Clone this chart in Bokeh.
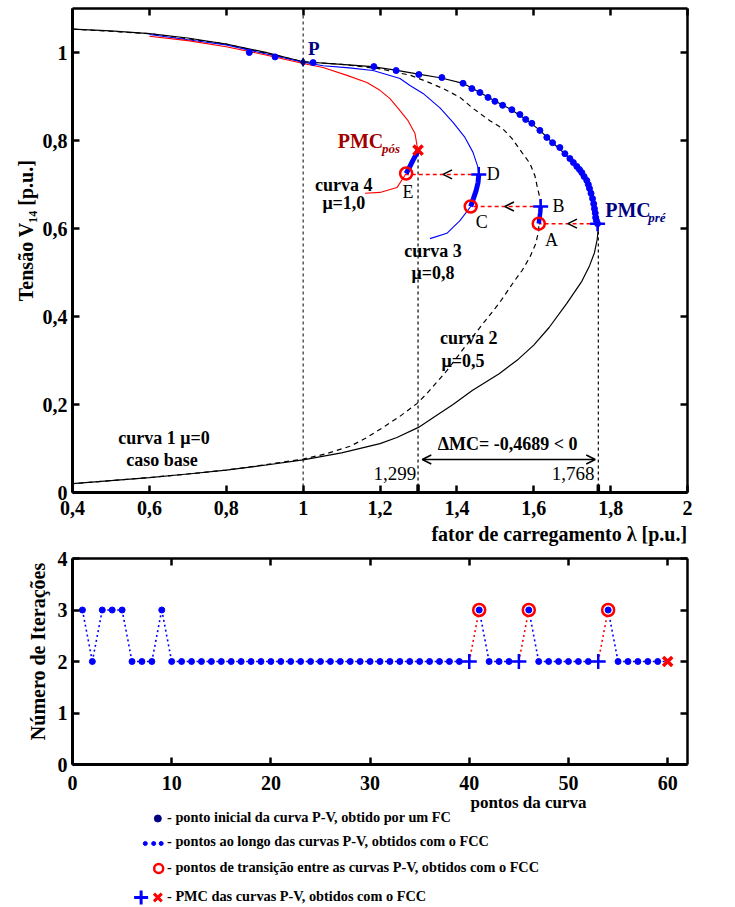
from bokeh.plotting import figure
from bokeh.layouts import column
from bokeh.models import Range1d, FixedTicker, LinearAxis, Label, Arrow, OpenHead, Title
from bokeh.core.properties import value
from bokeh.embed import file_html
from bokeh.resources import INLINE

FONT = "Liberation Serif"
BLUE = "#0000ff"
NAVY = "#000080"
RED = "#ff0000"
DARKRED = "#a00000"
NB = "\u00a0"

# ---------------- data: panel (a) ----------------
x_ticks_a = [0.4, 0.6, 0.8, 1.0, 1.2, 1.4, 1.6, 1.8, 2.0]
x_tick_labels_a = ["0,4", "0,6", "0,8", "1", "1,2", "1,4", "1,6", "1,8", "2"]
y_ticks_a = [0, 0.2, 0.4, 0.6, 0.8, 1.0]
y_tick_labels_a = ["0", "0,2", "0,4", "0,6", "0,8", "1"]

# curve 1 (mu = 0, base case) - upper branch then lower branch
c1_lam = [0.40, 0.50, 0.60, 0.70, 0.80, 0.90, 1.00, 1.10, 1.18, 1.24, 1.30, 1.36, 1.416, 1.46,
          1.50, 1.54, 1.58, 1.616, 1.649, 1.681, 1.712, 1.738, 1.753, 1.761, 1.766,
          1.768, 1.765, 1.758, 1.745, 1.725, 1.686, 1.64, 1.60, 1.56, 1.51, 1.44, 1.39,
          1.338, 1.30, 1.244, 1.20, 1.10, 1.00, 0.90, 0.80, 0.70, 0.60, 0.50, 0.40]
c1_v = [1.053, 1.049, 1.043, 1.033, 1.019, 1.001, 0.979, 0.973, 0.968, 0.960, 0.951, 0.942, 0.930, 0.909,
        0.889, 0.871, 0.848, 0.823, 0.795, 0.770, 0.741, 0.709, 0.668, 0.630, 0.611,
        0.600, 0.575, 0.545, 0.515, 0.480, 0.430, 0.375, 0.335, 0.303, 0.270, 0.232, 0.200,
        0.170, 0.148, 0.125, 0.111, 0.090, 0.074, 0.062, 0.051, 0.042, 0.034, 0.027, 0.020]

# curve 2 (mu = 0.5)
c2_lam = [0.40, 0.60, 0.80, 1.00, 1.10, 1.20, 1.28, 1.33, 1.369, 1.408, 1.442, 1.486, 1.519, 1.543,
          1.569, 1.590, 1.603, 1.610, 1.616, 1.618, 1.617, 1.613, 1.613, 1.605, 1.59, 1.57, 1.545,
          1.51, 1.468, 1.42, 1.374, 1.322, 1.296, 1.25, 1.208, 1.16, 1.122, 1.06, 1.00, 0.90, 0.80,
          0.70, 0.60, 0.50, 0.40]
c2_v = [1.053, 1.043, 1.019, 0.979, 0.973, 0.963, 0.948, 0.931, 0.916, 0.898, 0.873, 0.845, 0.827, 0.805,
        0.773, 0.748, 0.720, 0.691, 0.670, 0.648, 0.630, 0.611, 0.595, 0.565, 0.535, 0.505, 0.475,
        0.430, 0.384, 0.330, 0.277, 0.225, 0.202, 0.172, 0.148, 0.122, 0.105, 0.088, 0.076, 0.063, 0.051,
        0.042, 0.034, 0.027, 0.020]

# curve 3 (mu = 0.8)
c3_lam = [0.60, 0.80, 1.00, 1.052, 1.12, 1.182, 1.252, 1.278, 1.312, 1.356, 1.39, 1.421, 1.442, 1.455,
          1.457, 1.457, 1.452, 1.439, 1.436, 1.408, 1.374, 1.33]
c3_v = [1.041, 1.017, 0.978, 0.970, 0.965, 0.959, 0.941, 0.925, 0.907, 0.874, 0.841, 0.807, 0.773, 0.739,
        0.723, 0.702, 0.680, 0.657, 0.650, 0.618, 0.589, 0.577]

# curve 4 (mu = 1.0)
c4_lam = [0.60, 0.70, 0.80, 0.90, 1.00, 1.052, 1.114, 1.166, 1.20, 1.226, 1.252, 1.273, 1.291, 1.296,
          1.299, 1.285, 1.268, 1.244, 1.20, 1.161]
c4_v = [1.037, 1.027, 1.013, 0.995, 0.975, 0.966, 0.948, 0.932, 0.914, 0.895, 0.868, 0.845, 0.816, 0.790,
        0.778, 0.755, 0.725, 0.693, 0.682, 0.680]

# continuation points along curve 1 (P -> PMC_pre)
seq_lam = [1.003, 1.026, 1.184, 1.242, 1.301, 1.361, 1.416, 1.439, 1.460, 1.481, 1.499, 1.519, 1.543,
           1.564, 1.579, 1.595, 1.616, 1.634, 1.649, 1.668, 1.681, 1.694, 1.703, 1.712, 1.719, 1.725,
           1.731, 1.738, 1.742, 1.745, 1.749, 1.753, 1.756, 1.758, 1.760, 1.761, 1.763, 1.766]
seq_v = [0.978, 0.977, 0.968, 0.959, 0.950, 0.943, 0.930, 0.918, 0.909, 0.898, 0.889, 0.880, 0.870,
         0.859, 0.848, 0.839, 0.823, 0.807, 0.795, 0.784, 0.770, 0.759, 0.750, 0.741, 0.734, 0.727,
         0.718, 0.709, 0.700, 0.691, 0.680, 0.668, 0.656, 0.645, 0.635, 0.625, 0.618, 0.611]
pre_lam = [0.86, 0.927]
pre_v = [1.000, 0.990]
p_lam = [1.0]
p_v = [0.978]

# continuation segments A->B (curve 2), C->D (curve 3), E->X (curve 4)
ab_lam = [1.613, 1.615, 1.617, 1.618]
ab_v = [0.611, 0.624, 0.637, 0.650]
cd_lam = [1.436, 1.443, 1.450, 1.455, 1.457]
cd_v = [0.650, 0.668, 0.686, 0.704, 0.723]
ex_lam = [1.268, 1.276, 1.284, 1.292, 1.299]
ex_v = [0.725, 0.738, 0.752, 0.765, 0.778]

trans_lam = [1.613, 1.436, 1.268]   # A, C, E
trans_v = [0.611, 0.650, 0.725]
pmc_lam = [1.766, 1.618, 1.457]     # PMC_pre, B, D
pmc_v = [0.611, 0.650, 0.723]
pos_lam = [1.299]                   # PMC_pos
pos_v = [0.778]
arrow_tip_lam = [1.689, 1.525, 1.364]

lam_pos = 1.299
lam_pre = 1.768
mc_y = 0.075

# ---------------- data: panel (b) ----------------
pt_idx = list(range(1, 61))
iters = [3, 2, 3, 3, 3, 2, 2, 2, 3, 2,
         2, 2, 2, 2, 2, 2, 2, 2, 2, 2,
         2, 2, 2, 2, 2, 2, 2, 2, 2, 2,
         2, 2, 2, 2, 2, 2, 2, 2, 2, 2,
         3, 2, 2, 2, 2, 3, 2, 2, 2, 2,
         2, 2, 2, 3, 2, 2, 2, 2, 2, 2]
pmc_idx = [40, 45, 53]
trans_idx = [41, 46, 54]
final_idx = [60]
x_ticks_b = [0, 10, 20, 30, 40, 50, 60]
y_ticks_b = [0, 1, 2, 3, 4]


def style_axis(ax, show_labels=True, lw=3):
    ax.major_tick_in = 7
    ax.major_tick_out = 0
    ax.major_tick_line_width = 2.5
    ax.minor_tick_line_color = None
    ax.axis_line_width = lw
    ax.major_label_text_font = FONT
    ax.major_label_text_font_style = "bold"
    ax.major_label_text_color = "black"
    ax.major_label_text_font_size = "20px" if show_labels else "0px"
    ax.major_label_standoff = 5 if show_labels else 0
    ax.axis_label_text_font = FONT
    ax.axis_label_text_font_style = "bold"
    ax.axis_label_text_font_size = "20px"
    ax.axis_label_text_color = "black"


# ================= panel (a) =================
pa = figure(width=735, height=548, x_range=Range1d(0.4, 2.0), y_range=Range1d(0, 1.1),
            output_backend="svg", toolbar_location=None,
            min_border_left=72, min_border_right=48, min_border_top=8, min_border_bottom=56)
pa.outline_line_color = None
pa.grid.visible = False
pa.xaxis.ticker = FixedTicker(ticks=x_ticks_a)
pa.xaxis.major_label_overrides = {t: s for t, s in zip(x_ticks_a, x_tick_labels_a)}
pa.yaxis.ticker = FixedTicker(ticks=y_ticks_a)
pa.yaxis.major_label_overrides = {t: s for t, s in zip(y_ticks_a, y_tick_labels_a)}
for ax in pa.xaxis + pa.yaxis:
    style_axis(ax)
pa.xaxis.major_label_standoff = 8
pa.yaxis.axis_label = NB * 8 + "Tensão V₁₄ [p.u.]"
pa.yaxis.axis_label_standoff = 3
top_a = LinearAxis(ticker=FixedTicker(ticks=x_ticks_a))
right_a = LinearAxis(ticker=FixedTicker(ticks=y_ticks_a))
style_axis(top_a, False, 2.5)
style_axis(right_a, False, 2.5)
pa.add_layout(top_a, "above")
pa.add_layout(right_a, "right")
pa.add_layout(Title(text="fator de carregamento λ [p.u.]", align="right", text_font=FONT,
                    text_font_style="bold", text_font_size="20px", text_color="black",
                    standoff=6), "below")

# reference dashed verticals
pa.segment(x0=[1.0], y0=[0], x1=[1.0], y1=[1.1], line_color="black", line_dash="3 3", line_width=1)
pa.segment(x0=[lam_pos, lam_pre], y0=[0, 0], x1=[lam_pos, lam_pre], y1=[pos_v[0], pmc_v[0]],
           line_color="black", line_dash="3 3", line_width=1.2)
pa.segment(x0=[lam_pos, lam_pre], y0=[0, 0], x1=[lam_pos, lam_pre], y1=[0.018, 0.018],
           line_color="black", line_width=3.5)

# curves
pa.line(c1_lam, c1_v, line_color="black", line_width=1.2)
pa.line(c2_lam, c2_v, line_color="black", line_width=1.2, line_dash="5 4")
pa.line(c3_lam, c3_v, line_color=BLUE, line_width=1.1)
pa.line(c4_lam, c4_v, line_color=RED, line_width=1.1)

# transitions (red dashed)
pa.segment(x0=pmc_lam, y0=pmc_v, x1=trans_lam, y1=pmc_v, line_color=RED, line_dash="4 3", line_width=1.5)
for xs, xt, yy in zip(pmc_lam, arrow_tip_lam, pmc_v):
    pa.add_layout(Arrow(end=OpenHead(size=9, line_color="black", line_width=1.5),
                        x_start=xt + 0.03, y_start=yy, x_end=xt, y_end=yy, line_alpha=0))

# continuation path (blue)
pa.line(seq_lam[25:], seq_v[25:], line_color=BLUE, line_width=4.5)
pa.line(ab_lam, ab_v, line_color=BLUE, line_width=4.5)
pa.line(cd_lam, cd_v, line_color=BLUE, line_width=5)
pa.line(ex_lam, ex_v, line_color=BLUE, line_width=5)
pa.scatter(seq_lam[1:], seq_v[1:], size=6, color=BLUE)
pa.scatter(pre_lam, pre_v, size=6, color=BLUE)
pa.scatter(p_lam, p_v, size=8, color=NAVY, marker="diamond")

pa.scatter(trans_lam, trans_v, size=12, marker="circle", fill_color=None, line_color=RED, line_width=2.5)
pa.scatter(pmc_lam, pmc_v, size=15, marker="cross", line_color=BLUE, line_width=2.5)
pa.scatter(pos_lam, pos_v, size=13, marker="x", line_color=RED, line_width=3.5)

# delta MC arrow
pa.add_layout(Arrow(start=OpenHead(size=9, line_color="black", line_width=1.5),
                    end=OpenHead(size=9, line_color="black", line_width=1.5),
                    x_start=1.31, y_start=mc_y, x_end=1.76, y_end=mc_y,
                    line_color="black", line_width=1.5))


def lab(p, x, y, text, size="18px", color="black", style="bold", align="left", baseline="middle"):
    p.add_layout(Label(x=x, y=y, text=text, text_font=FONT, text_font_size=size, text_color=color,
                       text_font_style=style, text_align=align, text_baseline=baseline))


lab(pa, 1.013, 1.009, "P", "19px", NAVY)
lab(pa, 1.09, 0.80, "PMC", "20px", DARKRED)
lab(pa, 1.205, 0.782, "pós", "13px", DARKRED, "bold italic")
lab(pa, 1.786, 0.643, "PMC", "20px", NAVY)
lab(pa, 1.898, 0.626, "pré", "13px", NAVY, "bold italic")
lab(pa, 1.106, 0.698, "curva 4", align="center")
lab(pa, 1.106, 0.659, "μ=1,0", align="center")
lab(pa, 1.273, 0.684, "E", "18px", "black", "normal", "center")
lab(pa, 1.478, 0.723, "D", "18px", "black", "normal")
lab(pa, 1.449, 0.614, "C", "18px", "black", "normal")
lab(pa, 1.649, 0.652, "B", "18px", "black", "normal")
lab(pa, 1.629, 0.575, "A", "18px", "black", "normal")
lab(pa, 1.338, 0.55, "curva 3", align="center")
lab(pa, 1.338, 0.498, "μ=0,8", align="center")
lab(pa, 1.356, 0.352, "curva 2")
lab(pa, 1.360, 0.30, "μ=0,5")
lab(pa, 0.638, 0.125, "curva 1 μ=0", align="center")
lab(pa, 0.633, 0.073, "caso base", align="center")
lab(pa, 1.532, 0.111, "ΔMC= -0,4689 < 0", "18px", align="center")
lab(pa, 1.294, 0.043, "1,299", "19px", "black", "normal", "right")
lab(pa, 1.758, 0.043, "1,768", "19px", "black", "normal", "right")
lab(pa, 2.067, 0.614, "(a)", "21px", "black", "normal", "center")

# ================= panel (b) =================
pb = figure(width=735, height=246, x_range=Range1d(0, 62), y_range=Range1d(0, 4),
            output_backend="svg", toolbar_location=None,
            min_border_left=72, min_border_right=48, min_border_top=10, min_border_bottom=30)
pb.outline_line_color = None
pb.grid.visible = False
pb.xaxis.ticker = FixedTicker(ticks=x_ticks_b)
pb.yaxis.ticker = FixedTicker(ticks=y_ticks_b)
for ax in pb.xaxis + pb.yaxis:
    style_axis(ax)
pb.xaxis.major_label_standoff = 11
pb.yaxis.axis_label = NB * 4 + "Número de Iterações"
pb.yaxis.axis_label_standoff = 6
top_b = LinearAxis(ticker=FixedTicker(ticks=x_ticks_b))
right_b = LinearAxis(ticker=FixedTicker(ticks=y_ticks_b))
style_axis(top_b, False, 2.5)
style_axis(right_b, False, 2.5)
pb.add_layout(top_b, "above")
pb.add_layout(right_b, "right")

bx0, by0, bx1, by1, rx0, ry0, rx1, ry1 = [], [], [], [], [], [], [], []
for i in range(len(pt_idx) - 1):
    if pt_idx[i + 1] in trans_idx:
        rx0.append(pt_idx[i]); ry0.append(iters[i]); rx1.append(pt_idx[i + 1]); ry1.append(iters[i + 1])
    else:
        bx0.append(pt_idx[i]); by0.append(iters[i]); bx1.append(pt_idx[i + 1]); by1.append(iters[i + 1])
pb.segment(bx0, by0, bx1, by1, line_color=BLUE, line_dash="2 3", line_width=1.6)
pb.segment(rx0, ry0, rx1, ry1, line_color=RED, line_dash="2 3", line_width=1.6)

dot_x = [k for k in pt_idx if k not in pmc_idx and k not in final_idx]
dot_y = [iters[pt_idx.index(k)] for k in dot_x]
pb.scatter(dot_x, dot_y, size=6, color=BLUE)
pb.scatter(trans_idx, [iters[pt_idx.index(k)] for k in trans_idx], size=12, fill_color=None,
           line_color=RED, line_width=2.5)
pb.scatter(pmc_idx, [iters[pt_idx.index(k)] for k in pmc_idx], size=15, marker="cross",
           line_color=BLUE, line_width=2.5)
pb.scatter(final_idx, [iters[pt_idx.index(k)] for k in final_idx], size=13, marker="x",
           line_color=RED, line_width=3.5)
lab(pb, 65.0, 3.51, "(b)", "21px", "black", "normal", "center")

# ================= legend / footer =================
pl = figure(width=735, height=113, x_range=Range1d(0, 735), y_range=Range1d(907, 794),
            output_backend="svg", toolbar_location=None, x_axis_type=None, y_axis_type=None,
            min_border=0)
pl.outline_line_color = None
pl.grid.visible = False

pl.text(x=[545], y=[802], text=["pontos da curva"], text_font=value(FONT), text_font_style="bold",
        text_font_size="17px", text_align="center", text_baseline="middle", text_color="black")
legend_texts = ["- ponto inicial da curva P-V, obtido por um FC",
                "- pontos ao longo das curvas P-V, obtidos com o FCC",
                "- pontos de transição entre as curvas P-V, obtidos com o FCC",
                "- PMC das curvas P-V, obtidos com o FCC"]
pl.text(x=[113, 113, 113, 113], y=[816, 840, 866, 895], text=legend_texts, text_font=value(FONT),
        text_font_style="bold", text_font_size="14.3px", text_align="left", text_baseline="middle",
        text_color="black")
pl.scatter([102], [818], size=7, color=NAVY)
pl.scatter([87, 97, 106], [843, 843, 843], size=4, color=BLUE)
pl.scatter([103], [868], size=9, fill_color=None, line_color=RED, line_width=2.5)
pl.scatter([82], [897], size=14, marker="cross", line_color=BLUE, line_width=3)
pl.scatter([102], [897], size=11, marker="x", line_color=RED, line_width=3)

layout = column(pa, pb, pl, spacing=0)
open("out.html", "w").write(file_html(layout, INLINE))
